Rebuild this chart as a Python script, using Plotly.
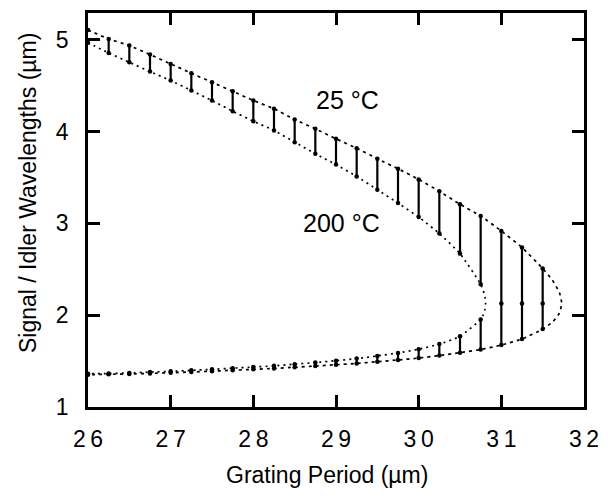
import plotly.graph_objects as go

# Grating period (um)
period = [26.0, 26.25, 26.5, 26.75, 27.0, 27.25, 27.5, 27.75, 28.0, 28.25, 28.5, 28.75,
          29.0, 29.25, 29.5, 29.75, 30.0, 30.25, 30.5, 30.75, 31.0, 31.25, 31.5]
# 25 C: long-wavelength (upper) and short-wavelength (lower) branches
upper25 = [5.105, 5.008, 4.935, 4.837, 4.736, 4.634, 4.536, 4.438, 4.337, 4.247, 4.13, 4.03,
           3.92, 3.818, 3.703, 3.594, 3.478, 3.348, 3.207, 3.08, 2.916, 2.736, 2.508]
lower25 = [1.352, 1.356, 1.360, 1.366, 1.373, 1.381, 1.390, 1.400, 1.410, 1.420, 1.433, 1.446,
           1.460, 1.475, 1.493, 1.512, 1.533, 1.560, 1.592, 1.626, 1.675, 1.741, 1.848]
# 200 C (only up to 30.75 um)
period200 = period[:20]
upper200 = [4.967, 4.855, 4.753, 4.652, 4.554, 4.446, 4.337, 4.22, 4.112, 4.011, 3.884, 3.757,
            3.64, 3.511, 3.366, 3.22, 3.068, 2.888, 2.67, 2.337]
lower200 = [1.362, 1.364, 1.371, 1.380, 1.388, 1.399, 1.410, 1.423, 1.435, 1.448, 1.466, 1.484,
            1.504, 1.527, 1.556, 1.589, 1.629, 1.685, 1.769, 1.953]
# turning points (degeneracy) of each curve
nose25_x = [31.617, 31.702, 31.73, 31.702, 31.617]
nose25_y = [2.382, 2.248, 2.128, 2.021, 1.923]
nose200_x = [30.783, 30.803, 30.81, 30.803, 30.783]
nose200_y = [2.263, 2.193, 2.128, 2.067, 2.008]
# degenerate-wavelength dots on the last bars
deg_x = [31.0, 31.25, 31.5]
deg_y = [2.128, 2.128, 2.128]

x_ticks = [26, 27, 28, 29, 30, 31, 32]
y_ticks = [1, 2, 3, 4, 5]

FONT = "Liberation Sans, Arial, sans-serif"

fig = go.Figure()

# curves
c25_x = period + nose25_x + period[::-1]
c25_y = upper25 + nose25_y + lower25[::-1]
c200_x = period200 + nose200_x + period200[::-1]
c200_y = upper200 + nose200_y + lower200[::-1]

fig.add_trace(go.Scatter(x=c25_x, y=c25_y, mode="lines",
                         line=dict(color="black", width=1.7, dash="3px,4px", shape="spline", smoothing=0.5),
                         hoverinfo="skip", showlegend=False))
fig.add_trace(go.Scatter(x=c200_x, y=c200_y, mode="lines",
                         line=dict(color="black", width=1.7, dash="2px,4px", shape="spline", smoothing=0.5),
                         hoverinfo="skip", showlegend=False))

# vertical bars
bx, by = [], []
for i in range(1, len(period)):
    p = period[i]
    top = upper25[i]
    if i < len(period200):
        bx += [p, p, None, p, p, None]
        by += [top, upper200[i], None, lower25[i], lower200[i], None]
    else:
        bx += [p, p, None]
        by += [top, lower25[i], None]
fig.add_trace(go.Scatter(x=bx, y=by, mode="lines", line=dict(color="black", width=2.2),
                         hoverinfo="skip", showlegend=False))

# dots at the ends of the bars
mx = period + period + period200 + period200 + deg_x
my = upper25 + lower25 + upper200 + lower200 + deg_y
fig.add_trace(go.Scatter(x=mx, y=my, mode="markers", marker=dict(color="black", size=4.5),
                         cliponaxis=False, hoverinfo="skip", showlegend=False))

fig.add_annotation(x=29.145, y=4.34, text="25 °C", showarrow=False,
                   font=dict(size=25, color="black", family=FONT))
fig.add_annotation(x=29.07, y=3.005, text="200 °C", showarrow=False,
                   font=dict(size=25, color="black", family=FONT))

# axis titles (placed as in the original figure, slightly off-centre)
fig.add_annotation(xref="paper", yref="paper", x=0.482, y=-0.172, text="Grating Period (µm)",
                   showarrow=False, xanchor="center", yanchor="middle",
                   font=dict(size=23, color="black", family=FONT))
fig.add_annotation(xref="paper", yref="paper", x=-0.121, y=0.543,
                   text="Signal / Idler Wavelengths (µm)", textangle=-90,
                   showarrow=False, xanchor="center", yanchor="middle",
                   font=dict(size=23, color="black", family=FONT))

axis_common = dict(showline=True, linecolor="black", linewidth=2.5, mirror="allticks",
                   ticks="inside", ticklen=12, tickwidth=2.5, tickcolor="black",
                   showgrid=False, zeroline=False, automargin=False,
                   tickfont=dict(size=23, color="black", family=FONT))

fig.update_xaxes(range=[26, 32], tickvals=x_ticks,
                 ticktext=["\u2009".join(str(v)) for v in x_ticks],
                 ticklabelstandoff=10, **axis_common)
fig.update_yaxes(range=[1, 5.29], tickvals=y_ticks, ticktext=[str(v) for v in y_ticks],
                 ticklabelstandoff=12, **axis_common)

# the page body adds an 8px offset, so margins are shifted accordingly
fig.update_layout(width=608, height=499, margin=dict(l=80, r=32, t=5, b=100),
                  plot_bgcolor="white", paper_bgcolor="white", showlegend=False)

fig.write_html("out.html")
